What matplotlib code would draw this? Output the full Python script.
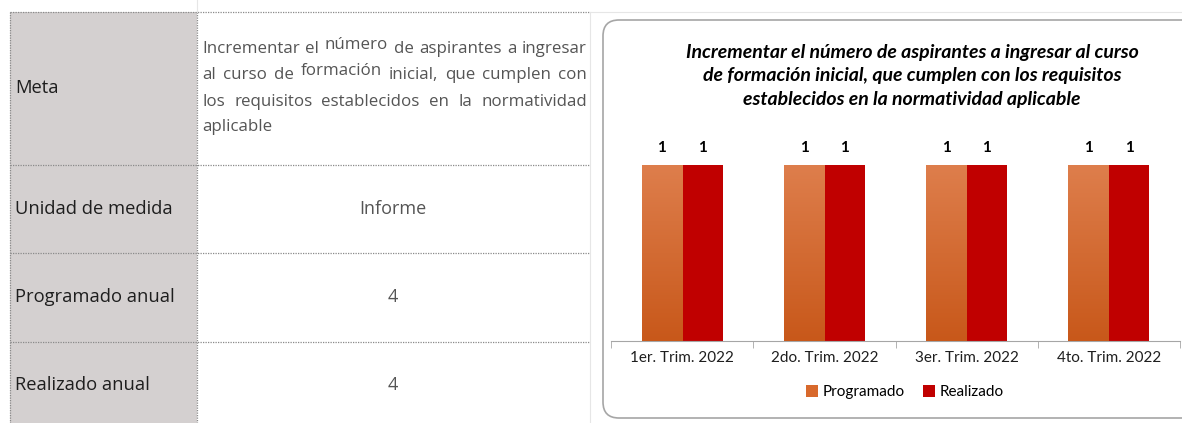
import numpy as np
import matplotlib
matplotlib.use("Agg")
import matplotlib.pyplot as plt
from matplotlib.patches import Rectangle, FancyBboxPatch
from matplotlib.colors import LinearSegmentedColormap

# ---- data
categories = ['1er. Trim. 2022', '2do. Trim. 2022', '3er. Trim. 2022', '4to. Trim. 2022']
programado = [1, 1, 1, 1]
realizado = [1, 1, 1, 1]
series_names = ['Programado', 'Realizado']

row_labels = ['Meta', 'Unidad de medida', 'Programado anual', 'Realizado anual']
row_values = ['', 'Informe', '4', '4']
meta_lines = ['Incrementar el número de aspirantes a ingresar',
              'al curso de formación inicial, que cumplen con',
              'los requisitos establecidos en la normatividad',
              'aplicable']
raised_words = ['número', 'formación']
chart_title = ('Incrementar el número de aspirantes a ingresar al curso\n'
               'de formación inicial, que cumplen con los requisitos\n'
               'establecidos en la normatividad aplicable')

W, H = 1182, 423
fig = plt.figure(figsize=(W / 100, H / 100), dpi=100)
fig.patch.set_facecolor('white')

# overlay axes in pixel coords for table + frame
bg = fig.add_axes([0, 0, 1, 1])
bg.set_xlim(0, W)
bg.set_ylim(H, 0)
bg.axis('off')

table_font = 'Open Sans'
gray = '#d4d0d0'
bg.add_patch(Rectangle((10, 12), 187, H - 12, facecolor=gray, edgecolor='none'))

row_tops = [12, 165, 253, 342]
row_y = [88, 209, 297, 385]
dot = dict(color='#8a8a8a', lw=0.9, ls=(0, (1, 1)))
for y in row_tops:
    bg.plot([10, 590], [y, y], **dot)
bg.plot([10, 10], [12, H], **dot)
bg.plot([197, 197], [12, H], **dot)
bg.plot([590, 590], [12, H], color='#e6e6e6', lw=0.8)
bg.plot([197, 197], [0, 12], color='#e6e6e6', lw=0.8)
bg.plot([590, W], [12, 12], color='#e6e6e6', lw=0.8)

for lab, val, yc in zip(row_labels, row_values, row_y):
    bg.text(15, yc, lab, fontsize=13.2, family=table_font, color='#1e1e1e',
            ha='left', va='center')
    if val:
        bg.text(393, yc, val, fontsize=13, family=table_font, color='#555555',
                ha='center', va='center')

# justified meta text
renderer = fig.canvas.get_renderer()
x_left, x_right = 202, 587
line_y = [49, 75, 102, 127]
for i, (line, y) in enumerate(zip(meta_lines, line_y)):
    words = line.split(' ')
    texts = []
    for w in words:
        dy = -4 if w in raised_words else 0
        t = bg.text(0, y + dy, w, fontsize=12.2, family=table_font, color='#555555',
                    ha='left', va='center')
        texts.append(t)
    widths = [t.get_window_extent(renderer).width for t in texts]
    if i < len(meta_lines) - 1 and len(words) > 1:
        gap = (x_right - x_left - sum(widths)) / (len(words) - 1)
    else:
        gap = 4
    x = x_left
    for t, wd in zip(texts, widths):
        t.set_x(x)
        x += wd + gap

# chart frame
bg.add_patch(FancyBboxPatch((603, 20), 620, 398, boxstyle='round,pad=0,rounding_size=16',
                            facecolor='white', edgecolor='#a6a6a6', lw=1.2))
bg.text(912, 76, chart_title, fontsize=14, family='Lato', weight='bold', style='italic',
        ha='center', va='center', linespacing=1.45, color='black')

# ---- bar chart
ax = fig.add_axes([611 / W, (H - 341) / H, (1180 - 611) / W, (341 - 130) / H])
ax.patch.set_alpha(0)
x = np.arange(len(categories))
bw = 0.285
b1 = ax.bar(x - bw / 2, programado, bw, color='#d8692c', label=series_names[0], zorder=2)
b2 = ax.bar(x + bw / 2, realizado, bw, color='#c00000', label=series_names[1], zorder=2)

cmap = LinearSegmentedColormap.from_list('org', ['#c8581a', '#de7e4c'])
grad = np.linspace(1, 0, 256).reshape(-1, 1)
for b in b1:
    im = ax.imshow(grad, extent=[b.get_x(), b.get_x() + b.get_width(), 0, b.get_height()],
                   aspect='auto', cmap=cmap, zorder=3, origin='upper')
    im.set_clip_path(b)

for bars in (b1, b2):
    for b in bars:
        ax.text(b.get_x() + b.get_width() / 2, b.get_height() + 0.1, str(int(b.get_height())),
                ha='center', va='center', fontsize=11, weight='bold', family='Lato')

ax.set_xlim(-0.5, len(categories) - 0.5)
ax.set_ylim(0, 1.2)
ax.set_yticks([])
for s in ['top', 'right', 'left']:
    ax.spines[s].set_visible(False)
ax.spines['bottom'].set_color('#a6a6a6')
ax.set_xticks(x)
ax.set_xticklabels(categories, fontsize=11, family='Lato', color='#1e1e1e')
ax.tick_params(axis='x', which='major', length=0, pad=7)
ax.set_xticks(np.arange(-0.5, len(categories)), minor=True)
ax.tick_params(axis='x', which='minor', length=5, color='#a6a6a6')

fig.legend(handles=[b1, b2], labels=series_names, loc='center',
           bbox_to_anchor=(905 / W, (H - 392) / H), ncol=2, frameon=False,
           prop={'family': 'Lato', 'size': 11}, handlelength=0.8, handleheight=0.8,
           handletextpad=0.3, columnspacing=1.2)

fig.savefig('out.png', dpi=100)
